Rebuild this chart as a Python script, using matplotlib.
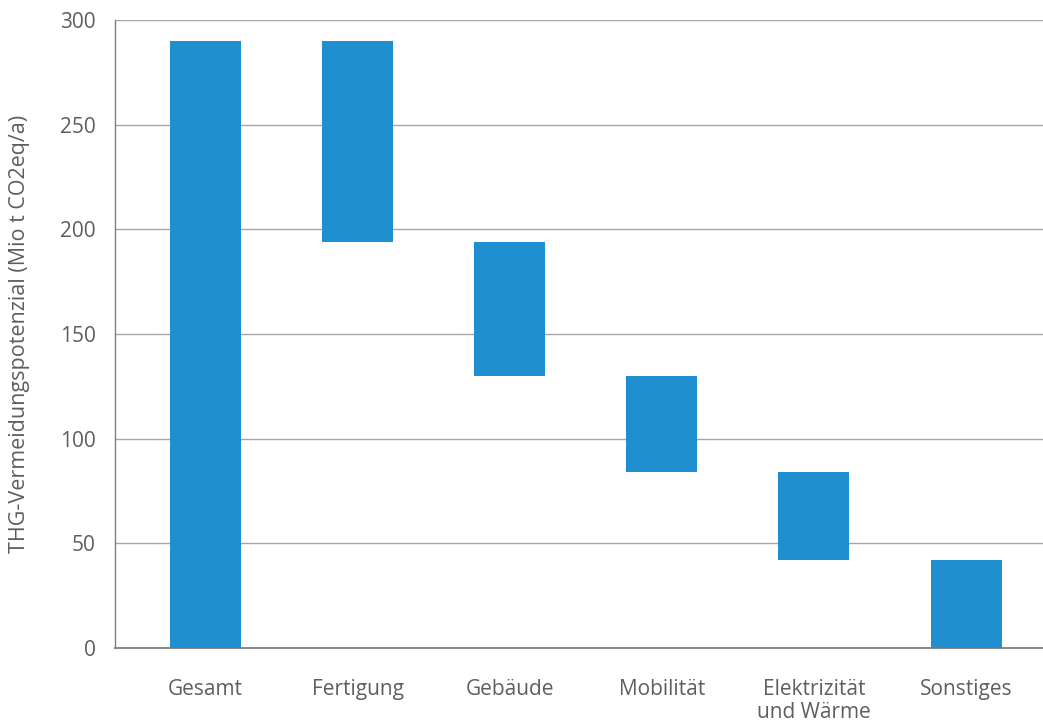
import matplotlib
matplotlib.use("Agg")
import matplotlib.pyplot as plt

plt.rcParams['font.family'] = ['Open Sans', 'DejaVu Sans']

categories = ["Gesamt", "Fertigung", "Gebäude", "Mobilität", "Elektrizität\nund Wärme", "Sonstiges"]
heights = [290, 96, 64, 46, 42, 42]
bottoms = [0, 194, 130, 84, 42, 0]
y_ticks = [0, 50, 100, 150, 200, 250, 300]

bar_color = "#1f8fcf"
text_color = "#5e5e5e"
grid_color = "#a6a6a6"

fig = plt.figure(figsize=(10.43, 7.22), dpi=100)
ax = fig.add_axes([115 / 1043, 1 - 648 / 722, (1043 - 115) / 1043, (648 - 20) / 722])

x = list(range(len(categories)))
ax.bar(x, heights, bottom=bottoms, width=0.467, color=bar_color, zorder=3)

ax.set_xlim(-0.595, 5.506)
ax.set_ylim(0, 300)
ax.set_yticks(y_ticks)
ax.set_xticks(x)
ax.set_xticklabels(categories)

ax.yaxis.grid(True, color=grid_color, linewidth=1.0, zorder=0)
for side in ("top", "right"):
    ax.spines[side].set_visible(False)
ax.spines["left"].set_color("#7f7f7f")
ax.spines["bottom"].set_color("#7f7f7f")
ax.spines["bottom"].set_linewidth(1.3)
ax.spines["left"].set_linewidth(1.0)

ax.tick_params(axis="both", length=0, labelsize=15, labelcolor=text_color)
ax.tick_params(axis="y", pad=14)
ax.tick_params(axis="x", pad=22)
for lbl in ax.get_xticklabels():
    lbl.set_linespacing(1.15)

ax.set_ylabel("THG-Vermeidungspotenzial (Mio t CO2eq/a)", fontsize=15.5,
              color=text_color)
ax.yaxis.set_label_coords(-85 / 928, 0.5)

fig.savefig("out.png", dpi=100)
